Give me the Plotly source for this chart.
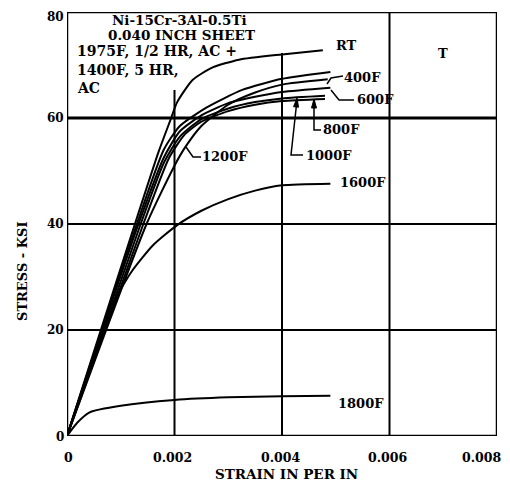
import plotly.graph_objects as go

# ---------------- data ----------------
rt_x = [0, 0.0017, 0.00192, 0.00205, 0.00234, 0.0027, 0.0032, 0.004, 0.00476]
rt_y = [0, 53.5, 59.5, 63.0, 67.2, 69.5, 71.0, 72.0, 72.8]

f400_x = [0, 0.0013, 0.0018, 0.0021, 0.0026, 0.00326, 0.004, 0.0049]
f400_y = [0, 40.0, 54.0, 58.5, 62.0, 65.3, 67.4, 68.7]

f600_x = [0, 0.00133, 0.0018, 0.0021, 0.0025, 0.003, 0.0035, 0.004, 0.0049]
f600_y = [0, 40.0, 52.5, 57.5, 60.5, 62.8, 64.0, 64.9, 65.7]

f800_x = [0, 0.00137, 0.0018, 0.0021, 0.0025, 0.003, 0.0035, 0.004, 0.0048]
f800_y = [0, 40.0, 51.5, 56.5, 59.8, 61.8, 63.0, 63.7, 64.2]

f1000_x = [0, 0.00142, 0.0019, 0.0022, 0.0025, 0.003, 0.0035, 0.004, 0.0048]
f1000_y = [0, 40.0, 52.5, 57.0, 59.3, 61.3, 62.5, 63.2, 63.6]

f1200_x = [0, 0.00148, 0.002, 0.0022, 0.0025, 0.003, 0.0035, 0.004, 0.00485]
f1200_y = [0, 40.0, 51.0, 54.5, 58.5, 62.5, 64.8, 66.3, 67.3]

f1600_x = [0, 0.00086, 0.0012, 0.0016, 0.00205, 0.0025, 0.003, 0.0035, 0.004, 0.0049]
f1600_y = [0, 25.0, 31.0, 36.0, 39.8, 42.5, 44.7, 46.3, 47.3, 47.6]

f1800_x = [0, 0.00019, 0.00043, 0.001, 0.002, 0.003, 0.004, 0.0049]
f1800_y = [0, 2.5, 4.5, 5.7, 6.8, 7.3, 7.5, 7.6]

x_tick_vals = [0, 0.002, 0.004, 0.006, 0.008]
x_tick_text = ["0", "0.002", "0.004", "0.006", "0.008"]
y_tick_vals = [0, 20, 40, 60, 80]
y_tick_text = ["0", "20", "40", "60", "80"]

curve_names = ["RT", "400F", "600F", "800F", "1000F", "1200F", "1600F", "1800F"]
curves_x = [rt_x, f400_x, f600_x, f800_x, f1000_x, f1200_x, f1600_x, f1800_x]
curves_y = [rt_y, f400_y, f600_y, f800_y, f1000_y, f1200_y, f1600_y, f1800_y]

note_lines = ["Ni-15Cr-3Al-0.5Ti", "0.040 INCH SHEET", "1975F, 1/2 HR, AC +", "1400F, 5 HR,", "AC"]
x_title = "STRAIN IN PER IN"
y_title = "STRESS - KSI"

# ---------------- layout helpers (pixel -> data / paper) ----------------
W, H = 510, 483
L, R, T, B = 67, 13, 12, 47
X0, X1, Y0, Y1 = 0.0, 0.008, 0.0, 80.0
PW, PH = W - L - R, H - T - B


def px2x(px):
    return X0 + (px - L) / PW * (X1 - X0)


def px2y(py):
    return Y0 + (H - B - py) / PH * (Y1 - Y0)


def ppx(px):
    return (px - L) / PW


def ppy(py):
    return (H - B - py) / PH


FONT = "DejaVu Serif"
INK = "black"

fig = go.Figure()
for name, xs, ys in zip(curve_names, curves_x, curves_y):
    fig.add_trace(go.Scatter(x=xs, y=ys, mode="lines", name=name,
                             line=dict(color=INK, width=2, shape="spline", smoothing=0.6),
                             showlegend=False, hoverinfo="skip"))

shapes = []
# grid lines
for yv, w in [(20, 2), (40, 2), (60, 3)]:
    shapes.append(dict(type="line", x0=X0, x1=X1, y0=yv, y1=yv, line=dict(color=INK, width=w), layer="below"))
for xv, ytop in [(0.002, px2y(90)), (0.004, px2y(53)), (0.006, Y1)]:
    shapes.append(dict(type="line", x0=xv, x1=xv, y0=Y0, y1=ytop, line=dict(color=INK, width=2), layer="below"))
# frame
shapes.append(dict(type="rect", x0=X0, x1=X1, y0=Y0, y1=Y1, line=dict(color=INK, width=2.5)))


def poly(pts, width=1.5):
    d = "M " + " L ".join(f"{px2x(a)},{px2y(b)}" for a, b in pts)
    return dict(type="path", path=d, line=dict(color=INK, width=width))


def arrowhead(tip, back, half=2.5):
    tx, ty = tip
    bx, by = back
    dx, dy = tx - bx, ty - by
    n = (dx * dx + dy * dy) ** 0.5
    ux, uy = dx / n, dy / n
    L0 = 9
    cx, cy = tx - ux * L0, ty - uy * L0
    p1 = (cx - uy * half, cy + ux * half)
    p2 = (cx + uy * half, cy - ux * half)
    d = f"M {px2x(tx)},{px2y(ty)} L {px2x(p1[0])},{px2y(p1[1])} L {px2x(p2[0])},{px2y(p2[1])} Z"
    return dict(type="path", path=d, fillcolor=INK, line=dict(color=INK, width=1))


# leaders
shapes.append(poly([(343, 76), (331, 78), (327, 84)]))          # 400F
shapes.append(poly([(354, 100), (339, 100), (331, 90)]))        # 600F
shapes.append(poly([(321, 130), (314, 130), (314, 101)]))       # 800F
shapes.append(arrowhead((314, 99), (314, 130)))
shapes.append(poly([(303, 155), (291, 155), (297, 100)]))       # 1000F
shapes.append(arrowhead((297, 98), (291, 155)))
shapes.append(poly([(201, 157), (193, 157), (186, 147)]))       # 1200F

ann = []


def label(text, cx, cy, size=13, xanchor="center", angle=0):
    ann.append(dict(x=ppx(cx), y=ppy(cy), xref="paper", yref="paper", text=f"<b>{text}</b>",
                    showarrow=False, xanchor=xanchor, yanchor="middle", textangle=angle,
                    font=dict(family=FONT, size=size, color=INK)))


label("RT", 346, 45)
label("400F", 362, 77)
label("600F", 375, 99)
label("800F", 341, 129)
label("1000F", 329, 155)
label("1200F", 225, 157)
label("1600F", 363, 182)
label("1800F", 361, 403)
label("T", 443, 53)

# note text
label(note_lines[0], 179, 20, size=13.5)
label(note_lines[1], 181, 35, size=13.5)
label(note_lines[2], 75, 51, size=14, xanchor="left")
label(note_lines[3], 75, 70, size=14, xanchor="left")
label(note_lines[4], 75, 88, size=14, xanchor="left")

# tick labels
x_shift = {0: 3, 0.008: -14}
for v, t in zip(x_tick_vals, x_tick_text):
    ann.append(dict(x=v, y=ppy(457), xref="x", yref="paper", text=f"<b>{t}</b>", showarrow=False,
                    xanchor="center", yanchor="middle", xshift=x_shift.get(v, 0) - 2,
                    font=dict(family=FONT, size=12.5, color=INK)))
y_shift = {80: -5, 0: -1}
for v, t in zip(y_tick_vals, y_tick_text):
    ann.append(dict(x=0, y=v, xref="paper", yref="y", text=f"<b>{t}</b>", showarrow=False,
                    xanchor="right", yanchor="middle", xshift=-1, yshift=y_shift.get(v, 0),
                    font=dict(family=FONT, size=12, color=INK)))

# axis titles
label(x_title, 286, 474, size=13.5)
label(y_title, 22, 272, size=13, angle=-90)

fig.update_layout(
    width=W, height=H,
    margin=dict(l=L, r=R, t=T, b=B, pad=0),
    paper_bgcolor="white", plot_bgcolor="white",
    xaxis=dict(range=[X0, X1], showgrid=False, zeroline=False, showticklabels=False,
               ticks="", showline=False, fixedrange=True),
    yaxis=dict(range=[Y0, Y1], showgrid=False, zeroline=False, showticklabels=False,
               ticks="", showline=False, fixedrange=True),
    shapes=shapes, annotations=ann, showlegend=False,
)

fig.write_html("out.html", config={"displayModeBar": False})
